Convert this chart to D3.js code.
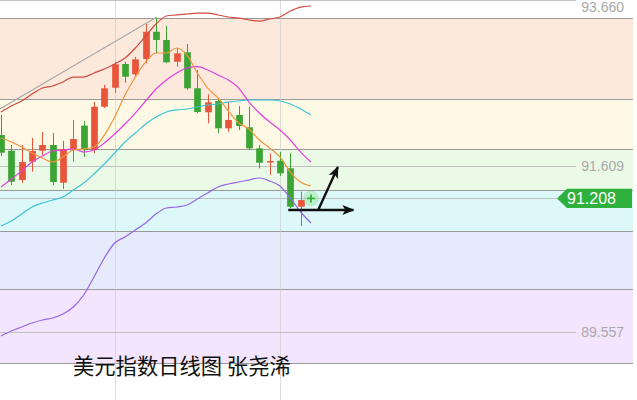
<!DOCTYPE html>
<html><head><meta charset="utf-8">
<script src="https://cdnjs.cloudflare.com/ajax/libs/d3/7.8.5/d3.min.js"></script>
<style>html,body{margin:0;padding:0;background:#fff;} svg{display:block;}</style>
</head><body><svg id="c" width="637" height="400"></svg>
<script>
// ---- data (daily candles, index = day position) ----
const opens  = [91.991,91.797,91.435,91.662,91.797,91.868,91.402,91.819,92.107,91.806,92.341,92.576,92.869,92.742,92.931,93.268,93.166,92.897,93.014,92.569,92.272,92.412,92.074,92.239,92.087,91.827,91.652,91.674,91.580,91.105];
const highs  = [92.239,91.868,91.868,91.955,92.029,92.016,91.921,92.177,92.165,92.399,92.609,92.897,92.897,92.959,93.363,93.444,93.342,93.067,93.116,92.795,92.495,92.436,92.403,92.350,92.341,91.868,91.765,91.781,91.765,91.291];
const lows   = [91.732,91.374,91.398,91.538,91.744,91.374,91.324,91.662,91.720,91.769,92.325,92.514,92.638,92.712,92.878,93.001,92.878,92.836,92.548,92.263,92.136,92.013,92.032,92.053,91.806,91.580,91.497,91.485,91.086,90.867];
const closes = [91.773,91.414,91.658,91.794,91.868,91.411,91.819,91.942,91.806,92.341,92.569,92.865,92.712,92.927,93.268,93.166,92.890,93.001,92.569,92.276,92.396,92.074,92.177,92.103,91.827,91.649,91.670,91.518,91.105,91.188];
// moving averages / bollinger (31 points incl. current day)
const ma5     = [91.954,91.905,91.843,91.769,91.707,91.658,91.720,91.806,91.819,91.843,91.991,92.214,92.486,92.708,92.894,93.005,93.005,93.067,92.980,92.758,92.572,92.449,92.288,92.140,92.066,91.930,91.831,91.720,91.534,91.411,91.361];
const ma10    = [91.349,91.448,91.547,91.658,91.732,91.794,91.806,91.819,91.781,91.806,91.893,92.004,92.128,92.263,92.412,92.560,92.671,92.758,92.820,92.836,92.795,92.733,92.671,92.572,92.399,92.263,92.152,92.053,91.930,91.781,91.658];
const bollMid = [90.867,90.929,91.015,91.102,91.151,91.188,91.225,91.312,91.398,91.510,91.633,91.769,91.905,92.016,92.128,92.214,92.276,92.301,92.313,92.338,92.362,92.375,92.399,92.412,92.424,92.424,92.424,92.412,92.375,92.313,92.239];
const bollUp  = [92.276,92.350,92.412,92.498,92.572,92.597,92.647,92.708,92.708,92.758,92.807,92.869,92.943,93.067,93.215,93.363,93.462,93.475,93.487,93.499,93.499,93.475,93.450,93.437,93.413,93.400,93.425,93.450,93.524,93.573,93.586];
const bollLow = [89.508,89.569,89.619,89.668,89.705,89.730,89.779,89.866,90.014,90.237,90.472,90.657,90.731,90.818,90.904,91.015,91.089,91.102,91.126,91.201,91.275,91.349,91.386,91.411,91.435,91.460,91.423,91.361,91.213,91.040,90.904];
// fibonacci bands
const fibLevels = [93.437,92.436,91.819,91.312,90.805,90.088,89.174];
const fibColors = ["#fde9dc","#fef9e5","#ebfae7","#ddf8f9","#e5eafd","#f2e5fd"];
// right axis labels
const axisTicks = [93.660,91.609,89.557];
const lastPrice = 91.208;
const lastIndex = 30;
// drawn annotations (index, price)
const trendLine = [[-0.1,92.313],[15,93.444]];
const arrowFlat = [[27.8,91.065],[34.1,91.065]];
const arrowUp   = [[30.7,91.065],[32.6,91.596]];
const gridIdx = [11,27];
const title = "美元指数日线图 张尧浠";

const svg = d3.select("#c");
const W = 637, H = 400;
const x = d3.scaleLinear().domain([0,30]).range([1,311]);
const y = d3.scaleLinear().domain([89.557,93.660]).range([332,0]);
const right = 633;

// bands
const bands = d3.pairs(fibLevels);
svg.append("g").selectAll("rect").data(bands).join("rect")
  .attr("x",0).attr("width",right)
  .attr("y",d=>y(d[0])).attr("height",d=>y(d[1])-y(d[0]))
  .attr("fill",(d,i)=>fibColors[i]);
svg.append("g").selectAll("line").data(fibLevels).join("line")
  .attr("x1",0).attr("x2",right)
  .attr("y1",d=>Math.round(y(d))+0.5).attr("y2",d=>Math.round(y(d))+0.5)
  .attr("stroke","#9a9a9a").attr("stroke-width",1.2);

// vertical faint grid
svg.append("g").selectAll("line").data(gridIdx).join("line")
  .attr("x1",d=>Math.round(x(d))+0.5).attr("x2",d=>Math.round(x(d))+0.5)
  .attr("y1",0).attr("y2",H)
  .attr("stroke","#cfcfcf").attr("stroke-width",1).attr("opacity",0.7);

// axis level lines + labels
svg.append("g").selectAll("line").data(axisTicks).join("line")
  .attr("x1",0).attr("x2",576)
  .attr("y1",d=>Math.round(y(d))+0.5).attr("y2",d=>Math.round(y(d))+0.5)
  .attr("stroke","#b5b5b5").attr("stroke-width",0.8);
svg.append("g").selectAll("text").data(axisTicks).join("text")
  .attr("x",624).attr("y",d=>Math.max(y(d)+1,8)).attr("text-anchor","end")
  .attr("dominant-baseline","middle")
  .attr("font-family","Liberation Sans, Arial, sans-serif").attr("font-size",14)
  .attr("fill","#a9a9a9").text(d=>d.toFixed(3));

// last price line
svg.append("line").attr("x1",0).attr("x2",557)
  .attr("y1",Math.round(y(lastPrice))+0.5).attr("y2",Math.round(y(lastPrice))+0.5)
  .attr("stroke","#b5b5b5").attr("stroke-width",0.8);

// trend line
svg.append("line")
  .attr("x1",x(trendLine[0][0])).attr("y1",y(trendLine[0][1]))
  .attr("x2",x(trendLine[1][0])).attr("y2",y(trendLine[1][1]))
  .attr("stroke","#a8a8a8").attr("stroke-width",1.1);

// candles
const n = closes.length;
const bw = 6.7;
const cg = svg.append("g");
const idx = d3.range(n);
const col = i => closes[i] >= opens[i] ? "#e8553b" : "#3ca434";
cg.selectAll("line").data(idx).join("line")
  .attr("x1",i=>Math.round(x(i))+0.5).attr("x2",i=>Math.round(x(i))+0.5)
  .attr("y1",i=>y(highs[i])).attr("y2",i=>y(lows[i]))
  .attr("stroke",col).attr("stroke-width",1);
cg.selectAll("rect").data(idx).join("rect")
  .attr("x",i=>Math.round(x(i))+0.5-bw/2).attr("width",bw)
  .attr("y",i=>y(Math.max(opens[i],closes[i])))
  .attr("height",i=>Math.max(1.5,Math.abs(y(opens[i])-y(closes[i]))))
  .attr("fill",col);

// indicator lines
const line = d3.line().x((d,i)=>x(i)).y(d=>y(d)).curve(d3.curveMonotoneX);
[[bollUp,"#d04a40"],[bollMid,"#3ec4d8"],[bollLow,"#9866e4"],[ma10,"#e23fe0"],[ma5,"#f0963c"]]
.forEach(([s,c])=>{
  svg.append("path").attr("d",line(s)).attr("fill","none")
    .attr("stroke",c).attr("stroke-width",1.2);
});

// arrows
const defs = svg.append("defs");
defs.append("marker").attr("id","ah").attr("viewBox","0 0 12 10")
  .attr("refX",11).attr("refY",5).attr("markerWidth",12).attr("markerHeight",10)
  .attr("markerUnits","userSpaceOnUse").attr("orient","auto")
  .append("path").attr("d","M0,0 L12,5 L0,10 L3,5 Z").attr("fill","#111");
[arrowFlat,arrowUp].forEach(a=>{
  svg.append("line")
    .attr("x1",x(a[0][0])).attr("y1",y(a[0][1]))
    .attr("x2",x(a[1][0])).attr("y2",y(a[1][1]))
    .attr("stroke","#111").attr("stroke-width",2.4)
    .attr("marker-end","url(#ah)");
});

// current price marker
const mx = x(lastIndex), my = y(lastPrice);
svg.append("circle").attr("cx",mx).attr("cy",my).attr("r",8)
  .attr("fill","#7fe07f").attr("opacity",0.35);
svg.append("path").attr("d",`M${mx-4},${my}H${mx+4}M${mx},${my-4}V${my+4}`)
  .attr("stroke","#36b436").attr("stroke-width",1.8);

// price tag
const ty = y(lastPrice);
svg.append("path")
  .attr("d",`M557,${ty} L567,${ty-9.7} H632 V${ty+9.7} H567 Z`)
  .attr("fill","#2eb03c");
svg.append("text").attr("x",567).attr("y",ty+1).attr("dominant-baseline","middle")
  .attr("font-family","Liberation Sans, Arial, sans-serif").attr("font-size",16)
  .attr("fill","#fff").text(lastPrice.toFixed(3));

// title
svg.append("text").attr("x",73).attr("y",374)
  .attr("font-family","Noto Sans CJK SC, sans-serif").attr("font-size",21.3)
  .attr("fill","#111").text(title);
</script>
</body></html>
